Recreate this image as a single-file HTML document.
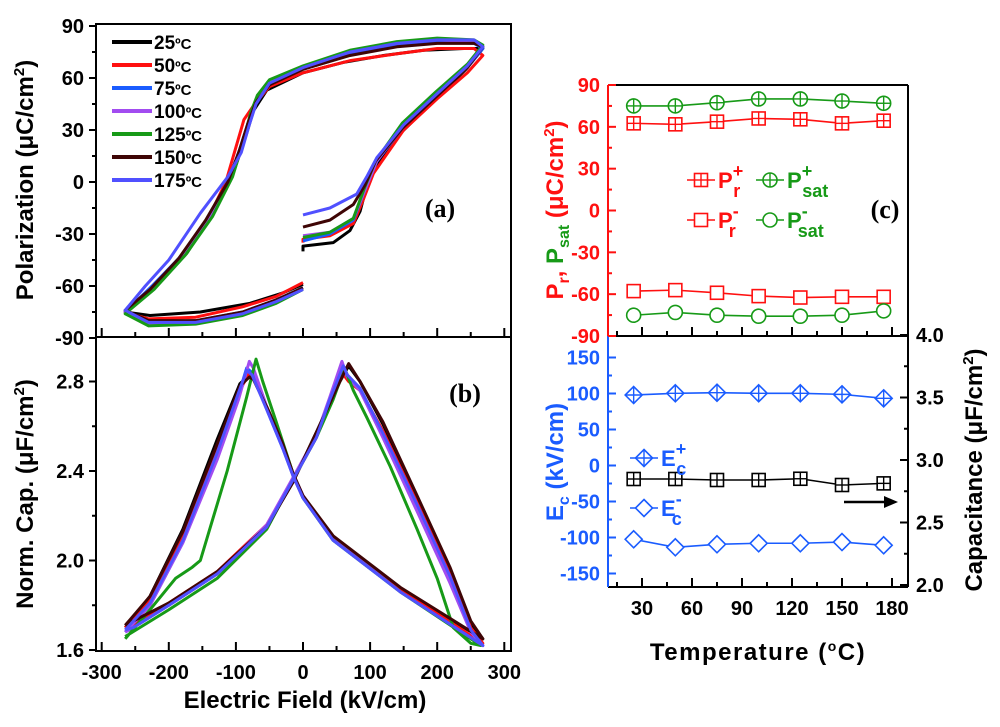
<!DOCTYPE html>
<html><head><meta charset="utf-8">
<style>
html,body{margin:0;padding:0;background:#fff;}
svg{display:block;font-family:"Liberation Sans",Arial,sans-serif;font-weight:bold;}
</style></head>
<body>
<svg id="fig" width="1000" height="727" viewBox="0 0 1000 727" xmlns="http://www.w3.org/2000/svg">
<g id="layer"></g>
</svg>
<script>
// ---------- Panel (a) P-E loops ----------
const tempLabels = ["25\u00B0C","50\u00B0C","75\u00B0C","100\u00B0C","125\u00B0C","150\u00B0C","175\u00B0C"];
const pe25 = [[0,-40],[0,-37],[45,-35],[70,-28],[85,-17],[100,5],[145,28],[195,47],[243,65],[268,77],[240,77],[180,76],[120,73],[60,69],[0,63],[-54,53],[-74,41],[-84,28],[-104,5],[-134,-18],[-173,-41],[-213,-58],[-250,-70],[-265,-75],[-228,-77],[-153,-75],[-79,-70],[-30,-64],[0,-59]];
const pe50 = [[0,-35],[0,-33],[40,-31],[75,-24],[90,-10],[105,5],[150,30],[200,48],[245,63],[268,73],[255,77],[200,77],[140,74],[70,70],[0,63],[-50,55],[-72,45],[-88,36],[-100,20],[-115,0],[-140,-20],[-180,-42],[-220,-60],[-265,-75],[-230,-79],[-160,-78],[-90,-72],[-40,-66],[0,-58]];
const pe75 = [[0,-34],[40,-30],[75,-22],[92,-5],[110,12],[150,32],[200,50],[245,66],[268,77],[255,80],[200,81],[140,79],[70,74],[0,66],[-50,57],[-70,46],[-82,34],[-95,18],[-112,0],[-140,-20],[-180,-42],[-225,-60],[-265,-75],[-230,-81],[-160,-80],[-90,-75],[-40,-68],[0,-61]];
const pe100 = [[0,-31],[40,-29],[75,-21],[92,-5],[110,12],[150,33],[200,51],[245,67],[268,78],[255,81],[200,82],[140,80],[70,75],[0,66],[-50,57],[-70,46],[-80,35],[-92,20],[-108,2],[-140,-20],[-180,-42],[-225,-61],[-265,-75],[-230,-82],[-160,-81],[-90,-76],[-40,-69],[0,-61]];
const pe125 = [[0,-32],[40,-29],[75,-21],[92,-3],[108,12],[148,34],[198,52],[245,68],[268,79],[255,82],[200,83],[140,81],[70,76],[0,67],[-50,59],[-68,50],[-78,40],[-90,22],[-105,3],[-135,-20],[-175,-42],[-222,-62],[-265,-76],[-230,-83],[-160,-82],[-90,-77],[-40,-70],[0,-62]];
const pe150 = [[0,-26],[40,-22],[75,-13],[92,-2],[108,12],[148,31],[198,49],[245,66],[268,78],[255,80],[200,80],[140,78],[70,73],[0,65],[-50,56],[-70,46],[-82,34],[-95,18],[-112,0],[-145,-22],[-185,-44],[-228,-62],[-265,-74],[-230,-80],[-160,-80],[-90,-75],[-40,-68],[0,-61]];
const pe175 = [[0,-19],[40,-15],[80,-7],[95,3],[110,14],[150,33],[200,51],[245,67],[268,78],[255,82],[200,82],[140,80],[70,75],[0,66],[-50,57],[-70,45],[-80,33],[-92,17],[-112,3],[-153,-18],[-200,-45],[-235,-60],[-265,-74],[-230,-81],[-160,-81],[-90,-76],[-40,-69],[0,-62]];
// ---------- Panel (b) C-E butterfly ----------
const ce25 = [[-265,1.70],[-228,1.84],[-179,2.14],[-128,2.54],[-94,2.79],[-80,2.83],[-74,2.82],[-50,2.66],[-30,2.52],[-15,2.39],[0,2.28],[45,2.10],[145,1.87],[268,1.65],[250,1.72],[219,1.96],[170,2.28],[119,2.61],[85,2.80],[68,2.87],[55,2.80],[21,2.58],[-15,2.35],[-54,2.15],[-128,1.94],[-200,1.80],[-253,1.72],[-265,1.70]];
const ce50 = [[-265,1.70],[-228,1.82],[-179,2.10],[-128,2.50],[-94,2.76],[-80,2.84],[-74,2.82],[-50,2.66],[-30,2.51],[-15,2.38],[0,2.28],[45,2.10],[145,1.87],[268,1.63],[250,1.70],[219,1.94],[170,2.26],[119,2.58],[85,2.76],[68,2.80],[58,2.84],[40,2.72],[20,2.55],[-15,2.36],[-54,2.16],[-128,1.95],[-200,1.81],[-253,1.71],[-265,1.70]];
const ce75 = [[-265,1.68],[-228,1.80],[-179,2.08],[-128,2.46],[-96,2.74],[-84,2.86],[-76,2.84],[-52,2.66],[-30,2.50],[-15,2.38],[0,2.28],[45,2.09],[145,1.86],[268,1.62],[250,1.69],[219,1.92],[170,2.24],[119,2.56],[85,2.76],[66,2.82],[58,2.88],[40,2.72],[20,2.55],[-15,2.36],[-54,2.15],[-128,1.94],[-200,1.80],[-253,1.70],[-265,1.68]];
const ce100 = [[-265,1.68],[-228,1.80],[-179,2.08],[-128,2.45],[-96,2.72],[-80,2.89],[-74,2.86],[-52,2.67],[-30,2.51],[-15,2.39],[0,2.29],[45,2.10],[145,1.86],[268,1.62],[250,1.68],[219,1.90],[170,2.22],[119,2.55],[85,2.76],[66,2.82],[58,2.89],[40,2.73],[20,2.56],[-15,2.37],[-54,2.16],[-128,1.94],[-200,1.80],[-253,1.70],[-265,1.68]];
const ce125 = [[-265,1.65],[-228,1.78],[-190,1.92],[-165,1.97],[-153,2.00],[-135,2.18],[-113,2.40],[-84,2.73],[-70,2.90],[-60,2.80],[-40,2.62],[-15,2.39],[0,2.28],[45,2.09],[145,1.86],[265,1.62],[250,1.63],[224,1.70],[200,1.92],[170,2.14],[130,2.42],[95,2.64],[75,2.76],[62,2.86],[45,2.72],[20,2.55],[-15,2.36],[-54,2.14],[-128,1.92],[-200,1.78],[-265,1.66]];
const ce150 = [[-265,1.71],[-228,1.84],[-179,2.13],[-128,2.52],[-94,2.78],[-80,2.82],[-74,2.81],[-50,2.66],[-30,2.52],[-15,2.39],[0,2.29],[45,2.11],[145,1.88],[268,1.65],[250,1.73],[219,1.97],[170,2.29],[119,2.62],[85,2.80],[68,2.88],[55,2.80],[21,2.58],[-15,2.35],[-54,2.15],[-128,1.95],[-200,1.81],[-253,1.73],[-265,1.71]];
const ce175 = [[-265,1.69],[-228,1.81],[-179,2.09],[-128,2.48],[-96,2.75],[-84,2.85],[-76,2.83],[-52,2.66],[-30,2.50],[-15,2.38],[0,2.28],[45,2.09],[145,1.86],[268,1.62],[250,1.69],[219,1.93],[170,2.25],[119,2.57],[85,2.77],[66,2.83],[60,2.87],[40,2.72],[20,2.55],[-15,2.36],[-54,2.15],[-128,1.94],[-200,1.80],[-253,1.70],[-265,1.69]];
// ---------- Panel (c) ----------
const temps = [25,50,75,100,125,150,175];
const prPlus = [62.5,61.8,63.7,66,65.4,62.5,64.4];
const prMinus = [-57.8,-57.1,-59,-61.4,-62.4,-61.9,-61.9];
const psatPlus = [75,75,77.3,80,80,78.5,76.9];
const psatMinus = [-75.1,-73.1,-75.1,-75.8,-75.8,-75.1,-72];
const ecPlus = [97.9,100.3,101.1,100.3,100.3,98.8,93.3];
const ecMinus = [-102.5,-113.6,-109.4,-108,-108,-106.3,-110.8];
const capacitance = [2.848,2.848,2.84,2.84,2.85,2.80,2.813];
const pTicks = ["90","60","30","0","-30","-60","-90"];
const eTicks = ["150","100","50","0","-50","-100","-150"];
const capTicks = ["4.0","3.5","3.0","2.5","2.0"];
const tTicks = ["30","60","90","120","150","180"];
const fieldTicks = ["-300","-200","-100","0","100","200","300"];
const polTicks = ["90","60","30","0","-30","-60","-90"];
const ncTicks = ["2.8","2.4","2.0","1.6"];

const NS="http://www.w3.org/2000/svg";
const L=document.getElementById('layer');
function mk(tag,attrs,parent){const e=document.createElementNS(NS,tag);for(const k in attrs)e.setAttribute(k,attrs[k]);(parent||L).appendChild(e);return e;}
function txt(x,y,s,size,fill,anchor,parent){const t=mk('text',{x:x,y:y,'font-size':size,fill:fill,'text-anchor':anchor||'middle'},parent);t.textContent=s;return t;}

const fx=v=>303+v*0.671;
const pyA=v=>182-v*52/30;
const pyB=v=>650-(v-1.6)*223.75;
const tx=v=>642+(v-30)*250/150;
const py=v=>85+(90-v)*251/180;
const ey=v=>465.5-v*36/50;
const cy=v=>585-(v-2)*125;

let g=mk('g',{});


mk('rect',{x:96,y:24,width:415,height:313,fill:'none',stroke:'#000','stroke-width':2},g);
let gb=mk('g',{});


mk('rect',{x:96,y:337,width:415,height:314,fill:'none',stroke:'#000','stroke-width':2},gb);
for(let v=90;v>=-90;v-=15){const y=pyA(v);mk('line',{x1:96,x2:v%30===0?89:92,y1:y,y2:y,stroke:'#000','stroke-width':2},g);}
polTicks.forEach(s=>{const t=txt(84,pyA(+s)+7,s,20,'#000','end',g);});
for(let v=-300;v<=300;v+=50){const x=fx(v);const len=v%100===0?9:5;
 mk('line',{x1:x,x2:x,y1:337,y2:337-len,stroke:'#000','stroke-width':2},g);
 mk('line',{x1:x,x2:x,y1:651,y2:651-len,stroke:'#000','stroke-width':2},gb);}
fieldTicks.forEach(s=>{const t=txt(fx(+s),679,s,20,'#000','middle',gb);});
for(let v=1.6;v<=2.95;v+=0.2){const y=pyB(v);const maj=Math.abs(((v-1.6)/0.4)-Math.round((v-1.6)/0.4))<0.01;mk('line',{x1:96,x2:maj?89:92,y1:y,y2:y,stroke:'#000','stroke-width':2},gb);}
ncTicks.forEach(s=>{const t=txt(84,pyB(+s)+7,s,20,'#000','end',gb);});

const colors=['#000000','#ff1010','#1a5cff','#a24cf0','#179a17','#3e0505','#5050ff'];
const peSeries=[pe25,pe50,pe75,pe100,pe125,pe150,pe175];
const ceSeries=[ce25,ce50,ce75,ce100,ce125,ce150,ce175];
peSeries.forEach((d,i)=>{const p=mk('polyline',{points:d.map(q=>fx(q[0])+','+pyA(q[1])).join(' '),fill:'none',stroke:colors[i],'stroke-width':3,'stroke-linejoin':'round'},g);
 
 });
ceSeries.forEach((d,i)=>{const p=mk('polyline',{points:d.map(q=>fx(q[0])+','+pyB(q[1])).join(' '),fill:'none',stroke:colors[i],'stroke-width':3,'stroke-linejoin':'round'},gb);
 
 });
tempLabels.forEach((s,i)=>{const y=42+i*23;const lg=mk('g',{},g);
 
 
 mk('line',{x1:112,x2:152,y1:y,y2:y,stroke:colors[i],'stroke-width':4},lg);
 const t=mk('text',{x:154,y:y+7,'font-size':19,fill:'#000'},lg);
 t.innerHTML=s.replace('\u00B0C','')+'<tspan font-size="15">\u00BAC</tspan>';});
let la=txt(440,217,'(a)',26,'#000','middle',g);la.setAttribute('font-family','Liberation Serif, serif');

let lb=txt(465,402,'(b)',26,'#000','middle',gb);lb.setAttribute('font-family','Liberation Serif, serif');

let t1=mk('text',{x:0,y:0,'font-size':24,'text-anchor':'middle',transform:'translate(33,180) rotate(-90)'});
t1.innerHTML='Polarization  (\u03BCC/cm<tspan dy="-9" font-size="15">2</tspan><tspan dy="9">)</tspan>';

let t2=mk('text',{x:0,y:0,'font-size':24,'text-anchor':'middle',transform:'translate(33,494) rotate(-90)'});
t2.innerHTML='Norm. Cap.  (\u03BCF/cm<tspan dy="-9" font-size="15">2</tspan><tspan dy="9">)</tspan>';

let t3=txt(305,708,'Electric Field  (kV/cm)',24,'#000','middle');


const gc=mk('g',{});


mk('line',{x1:608,x2:908,y1:85,y2:85,stroke:'#000','stroke-width':2},gc);
mk('line',{x1:908,x2:908,y1:85,y2:587,stroke:'#000','stroke-width':2},gc);
mk('line',{x1:608,x2:908,y1:336,y2:336,stroke:'#000','stroke-width':2},gc);
mk('line',{x1:608,x2:908,y1:587,y2:587,stroke:'#000','stroke-width':2},gc);
mk('line',{x1:608,x2:608,y1:85,y2:336,stroke:'#ff1010','stroke-width':2},gc);
mk('line',{x1:608,x2:608,y1:336,y2:587,stroke:'#1a5cff','stroke-width':2},gc);
for(let v=90;v>=-90;v-=15){const y=py(v);mk('line',{x1:608,x2:v%30===0?616:612,y1:y,y2:y,stroke:'#ff1010','stroke-width':2},gc);}
pTicks.forEach(s=>{const t=txt(600,py(+s)+7,s,20,'#ff1010','end',gc);});
for(let v=150;v>=-150;v-=25){const y=ey(v);mk('line',{x1:608,x2:v%50===0?616:612,y1:y,y2:y,stroke:'#1a5cff','stroke-width':2},gc);}
eTicks.forEach(s=>{const t=txt(600,ey(+s)+7,s,20,'#1a5cff','end',gc);});
for(let v=2.0;v<=4.01;v+=0.25){const y=cy(v);const maj=Math.abs(v*2-Math.round(v*2))<0.01;mk('line',{x1:908,x2:maj?900:904,y1:y,y2:y,stroke:'#000','stroke-width':2},gc);}
capTicks.forEach(s=>{const t=txt(916,cy(+s)+7,s,20,'#000','start',gc);});
for(let v=15;v<=195;v+=15){const x=tx(v);if(x<=608||x>=908)continue;const len=v%30===0?9:5;
 mk('line',{x1:x,x2:x,y1:587,y2:587-len,stroke:'#000','stroke-width':2},gc);
 mk('line',{x1:x,x2:x,y1:336,y2:336-len,stroke:'#000','stroke-width':2},gc);}
tTicks.forEach(s=>{const t=txt(tx(+s),615,s,20,'#000','middle',gc);});

function marker(x,y,type,col,parent){const a={fill:'#fff',stroke:col,'stroke-width':1.6};const r=6.5;
 if(type[0]==='s'){mk('rect',Object.assign({x:x-r,y:y-r,width:2*r,height:2*r},a),parent);}
 else if(type[0]==='c'){mk('circle',Object.assign({cx:x,cy:y,r:r+0.5},a),parent);}
 else {mk('polygon',Object.assign({points:`${x},${y-r-2} ${x+r+2},${y} ${x},${y+r+2} ${x-r-2},${y}`},a),parent);}
 if(type[1]==='+'){const rr=type[0]==='d'?r+2:r;mk('line',{x1:x-rr,x2:x+rr,y1:y,y2:y,stroke:col,'stroke-width':1.4},parent);mk('line',{x1:x,x2:x,y1:y-rr,y2:y+rr,stroke:col,'stroke-width':1.4},parent);}
}
function series(vals,ys,type,col,name){const sg=mk('g',{},gc);
 
 
 mk('polyline',{points:temps.map((t,i)=>tx(t)+','+ys(vals[i])).join(' '),fill:'none',stroke:col,'stroke-width':1.6},sg);
 temps.forEach((t,i)=>marker(tx(t),ys(vals[i]),type,col,sg));}
series(psatPlus,py,'c+','#179a17','psat-plus-series');
series(prPlus,py,'s+','#ff1010','pr-plus-series');
series(prMinus,py,'s','#ff1010','pr-minus-series');
series(psatMinus,py,'c','#179a17','psat-minus-series');
series(ecPlus,ey,'d+','#1a5cff','ec-plus-series');
series(ecMinus,ey,'d','#1a5cff','ec-minus-series');
series(capacitance,cy,'s+','#000','capacitance-series');

function leg(x,y,type,col,main,sup,sub,name){const lg=mk('g',{},gc);
 
 
 mk('line',{x1:x,x2:x+28,y1:y,y2:y,stroke:col,'stroke-width':1.6},lg);marker(x+14,y,type,col,lg);
 const t=mk('text',{x:x+31,y:y+8,'font-size':22,fill:col},lg);
 t.innerHTML=main+`<tspan font-size="18" dy="-11">${sup}</tspan><tspan font-size="18" dx="-10" dy="20">${sub}</tspan>`;}
leg(687,180,'s+','#ff1010','P','+','r','legend-pr-plus');
leg(687,220,'s','#ff1010','P','-','r','legend-pr-minus');
leg(756,180,'c+','#179a17','P','+','sat','legend-psat-plus');
leg(756,220,'c','#179a17','P','-','sat','legend-psat-minus');
leg(630,458,'d+','#1a5cff','E','+','c','legend-ec-plus');
leg(630,508,'d','#1a5cff','E','-','c','legend-ec-minus');
let lc=txt(885,218,'(c)',26,'#000','middle',gc);lc.setAttribute('font-family','Liberation Serif, serif');

const ar=mk('g',{},gc);


mk('line',{x1:844,x2:886,y1:502,y2:502,stroke:'#000','stroke-width':2.5},ar);
mk('polygon',{points:'884,496 898,502 884,508',fill:'#000'},ar);
let t4=mk('text',{x:0,y:0,'font-size':24,'text-anchor':'middle',transform:'translate(563,210) rotate(-90)'});
t4.innerHTML='<tspan fill="#ff1010">P</tspan><tspan fill="#ff1010" font-size="16" dy="6">r</tspan><tspan fill="#ff1010" dy="-6">, </tspan><tspan fill="#179a17">P</tspan><tspan fill="#179a17" font-size="16" dy="6">sat</tspan><tspan fill="#ff1010" dy="-6">  (\u03BCC/cm</tspan><tspan fill="#ff1010" dy="-9" font-size="15">2</tspan><tspan fill="#ff1010" dy="9">)</tspan>';

let t5=mk('text',{x:0,y:0,'font-size':24,'text-anchor':'middle',fill:'#1a5cff',transform:'translate(563,462) rotate(-90)'});
t5.innerHTML='E<tspan font-size="16" dy="6">c</tspan><tspan dy="-6">  (kV/cm)</tspan>';

let t6=mk('text',{x:0,y:0,'font-size':24,'text-anchor':'middle',transform:'translate(982,470) rotate(-90)'});
t6.innerHTML='Capacitance  (\u03BCF/cm<tspan dy="-9" font-size="15">2</tspan><tspan dy="9">)</tspan>';

let t7=mk('text',{x:758,y:660,'font-size':24,'text-anchor':'middle','letter-spacing':'1.5'},gc);
t7.innerHTML='Temperature (<tspan font-size="14" dy="-9">o</tspan><tspan dy="9">C)</tspan>';

</script>
</body></html>
